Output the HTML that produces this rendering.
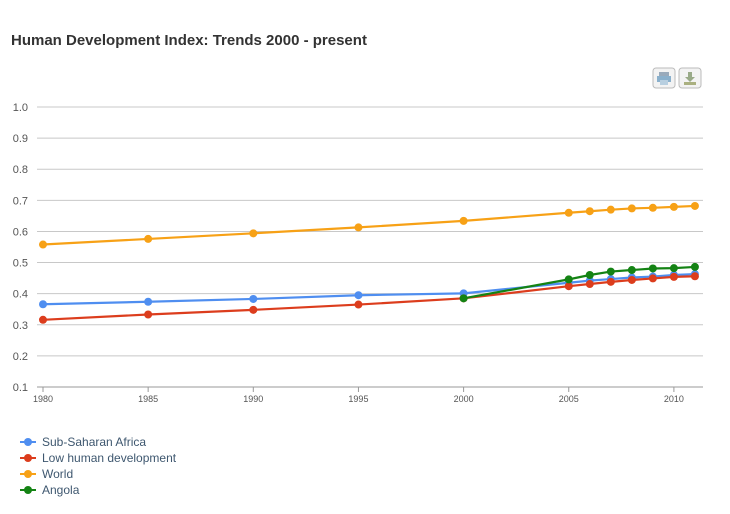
<!DOCTYPE html>
<html><head><meta charset="utf-8"><style>
body{margin:0;background:#fff;width:730px;height:509px;overflow:hidden;font-family:"Liberation Sans",sans-serif}
</style></head><body>
<svg width="730" height="509" xmlns="http://www.w3.org/2000/svg">
<text x="11" y="45" font-size="15" font-weight="bold" fill="#333">Human Development Index: Trends 2000 - present</text>
<g><rect x="653" y="68" width="22" height="20" rx="3" fill="#f3f3f3" stroke="#bbb"/><rect x="659" y="72" width="10" height="5" fill="#9ab"/><rect x="657" y="76" width="14" height="6" fill="#8ab0cc"/><rect x="660" y="80" width="8" height="5" fill="#b8cfe0"/></g>
<g><rect x="679" y="68" width="22" height="20" rx="3" fill="#f3f3f3" stroke="#bbb"/><rect x="688" y="72" width="4" height="6" fill="#9a8"/><path d="M685 77h10l-5 5z" fill="#9a8"/><rect x="684" y="82" width="12" height="3" fill="#aab080"/></g>
<g id="grid"></g><g id="axes"></g><g id="series"></g><g id="legend"></g>
</svg>
<script>
const years=[1980,1985,1990,1995,2000,2005,2006,2007,2008,2009,2010,2011];
const ssa=[0.366,0.374,0.383,0.395,0.401,0.435,0.442,0.447,0.452,0.455,0.460,0.463];
const low=[0.316,0.333,0.348,0.365,0.385,0.424,0.431,0.438,0.444,0.449,0.454,0.456];
const world=[0.558,0.576,0.594,0.613,0.634,0.660,0.665,0.670,0.674,0.676,0.679,0.682];
const angolaYears=[2000,2005,2006,2007,2008,2009,2010,2011];
const angola=[0.385,0.446,0.460,0.471,0.476,0.481,0.482,0.486];
const yTicks=[0.1,0.2,0.3,0.4,0.5,0.6,0.7,0.8,0.9,1.0];
const xTicks=[1980,1985,1990,1995,2000,2005,2010];
const NS='http://www.w3.org/2000/svg';
const X=y=>43+(y-1980)*21.03;
const Y=v=>387-(v-0.1)*311.1;
function mk(t,a,p){const e=document.createElementNS(NS,t);for(const k in a)e.setAttribute(k,a[k]);p.appendChild(e);return e;}
const grid=document.getElementById('grid'),axes=document.getElementById('axes');
yTicks.forEach(v=>{
 const l=mk('line',{x1:37,x2:703,y1:Y(v),y2:Y(v),stroke:v===0.1?'#999':'#c8c8c8','stroke-width':1},grid);
 
 
 const t=mk('text',{x:28,y:Y(v)+4,'font-size':11,fill:'#555','text-anchor':'end'},axes);
 t.textContent=v.toFixed(1);
 
 
});
xTicks.forEach(yr=>{
 const tk=mk('line',{x1:X(yr),x2:X(yr),y1:387,y2:392,stroke:'#999'},axes);
 
 
 const t=mk('text',{x:X(yr),y:402,'font-size':9,fill:'#555','text-anchor':'middle'},axes);
 t.textContent=yr;
 
 
});
const ser=document.getElementById('series');
function draw(xs,vs,c,name){
 const g=mk('g',{},ser);
 
 
 const pts=xs.map((x,i)=>X(x)+','+Y(vs[i])).join(' ');
 mk('polyline',{points:pts,fill:'none',stroke:c,'stroke-width':2.2},g);
 xs.forEach((x,i)=>{
  const p=mk('circle',{cx:X(x),cy:Y(vs[i]),r:4,fill:c},g);
  
  
 });
}
draw(years,world,'#f7a116','world');
draw(years,ssa,'#4f8ef0','sub-saharan-africa');
draw(years,low,'#dc3d1d','low-human-development');
draw(angolaYears,angola,'#148314','angola');
const leg=document.getElementById('legend');
[['Sub-Saharan Africa','#4f8ef0'],['Low human development','#dc3d1d'],['World','#f7a116'],['Angola','#148314']].forEach((d,i)=>{
 const y=442+i*16;
 const g=mk('g',{},leg);
 
 
 mk('line',{x1:20,x2:36,y1:y,y2:y,stroke:d[1],'stroke-width':2},g);
 mk('circle',{cx:28,cy:y,r:4,fill:d[1]},g);
 const t=mk('text',{x:42,y:y+4,'font-size':12,fill:'#3e576f'},g);
 t.textContent=d[0];
});
</script>
</body></html>
